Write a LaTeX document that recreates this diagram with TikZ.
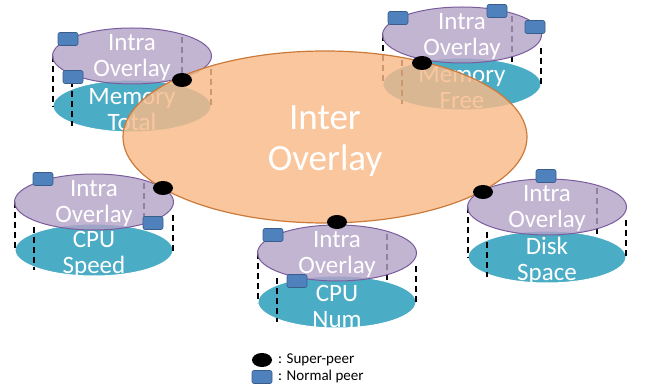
\documentclass[tikz,border=0pt]{standalone}
\usepackage{fontspec}
\setmainfont{Carlito}
\usetikzlibrary{shapes.geometric}
\definecolor{cylcyan}{HTML}{4BACC6}
\definecolor{cylpurple}{HTML}{B3A2C7}
\definecolor{cylpurpleedge}{HTML}{7A5C9E}
\definecolor{interfill}{HTML}{F9BA88}
\definecolor{interedge}{HTML}{CC7A3A}
\definecolor{peerblue}{HTML}{4F81BD}
\definecolor{peeredge}{HTML}{385D8A}
\tikzset{
  basecyl/.style={ellipse, fill=cylcyan, draw=white, line width=1pt, minimum width=158, minimum height=52, inner sep=0pt},
  topcyl/.style={ellipse, fill=cylpurple, fill opacity=0.8, draw=cylpurpleedge, line width=1pt, minimum width=159, minimum height=56, inner sep=0pt},
  cyltext/.style={text=white, align=center, font=\fontsize{25}{26}\selectfont, inner sep=0pt},
  dashline/.style={black, line width=2.5pt, dash pattern=on 6pt off 4pt},
  superpeer/.style={ellipse, fill=black, minimum width=20, minimum height=14, inner sep=0pt},
  normalpeer/.style={rectangle, rounded corners=2pt, fill=peerblue, draw=peeredge, line width=0.6pt, minimum width=20, minimum height=13, inner sep=0pt},
  interell/.style={ellipse, fill=interfill, fill opacity=0.82, draw=interedge, draw opacity=1, line width=1.2pt, minimum width=404, minimum height=172, inner sep=0pt},
  legendtext/.style={anchor=west, font=\fontsize{15}{17}\selectfont, inner sep=0pt}
}
\newcommand\peergroup[5]{%
  \node[basecyl] (#1b) at (#2,#4) {};
  \node[cyltext] (#1bl) at (#2,#4+4) {#5};
  \draw[dashline] (#2-79,#3) -- (#2-79,#4+1);
  \draw[dashline] (#2+79,#3+13) -- (#2+79,#4+1);
  \draw[dashline] (#2-60,#3+25) -- (#2-60,#4+20);
  \draw[dashline] (#2+50,#3-19) -- (#2+50,#4-22);
  \node[topcyl] (#1t) at (#2,#3) {};
  \node[cyltext] (#1tl) at (#2,#3+1) {Intra\\Overlay};
}
\begin{document}
\begin{tikzpicture}[x=1pt,y=-1pt]
\useasboundingbox (0,0) rectangle (646,387);
\peergroup{ga}{132}{56}{106}{Memory\\Total}
\peergroup{gb}{462}{35}{84}{Memory\\Free}
\peergroup{gc}{94}{202}{250}{CPU\\Speed}
\peergroup{gd}{337}{253}{302}{CPU\\Num}
\peergroup{ge}{547}{207}{257}{Disk\\Space}
% normal peers
\node[normalpeer] (pa1) at (68,39) {};
\node[normalpeer] (pa2) at (73,77) {};
\node[normalpeer] (pb1) at (398,18) {};
\node[normalpeer] (pb2) at (497,11) {};
\node[normalpeer] (pb3) at (535,27) {};
\node[normalpeer] (pc1) at (43,179) {};
\node[normalpeer] (pc2) at (153,223) {};
\node[normalpeer] (pd1) at (273,235) {};
\node[normalpeer] (pd2) at (297,281) {};
\node[normalpeer] (pe1) at (546,176) {};
% inter overlay
\node[interell] (inter) at (325,137) {};
\node[text=white, align=center, font=\fontsize{37}{41}\selectfont, inner sep=0pt] (interl) at (325,141) {Inter\\Overlay};
% super peers
\node[superpeer] (sa) at (182,80) {};
\node[superpeer] (sb) at (422,63) {};
\node[superpeer] (sc) at (163,188) {};
\node[superpeer] (sd) at (337,222) {};
\node[superpeer] (se) at (483,192) {};
% legend
\node[superpeer] (lsp) at (262,360) {};
\node[legendtext] (lspt) at (278,360) {: Super-peer};
\node[normalpeer] (lnp) at (262,377) {};
\node[legendtext] (lnpt) at (278,377) {: Normal peer};
\end{tikzpicture}
\end{document}
